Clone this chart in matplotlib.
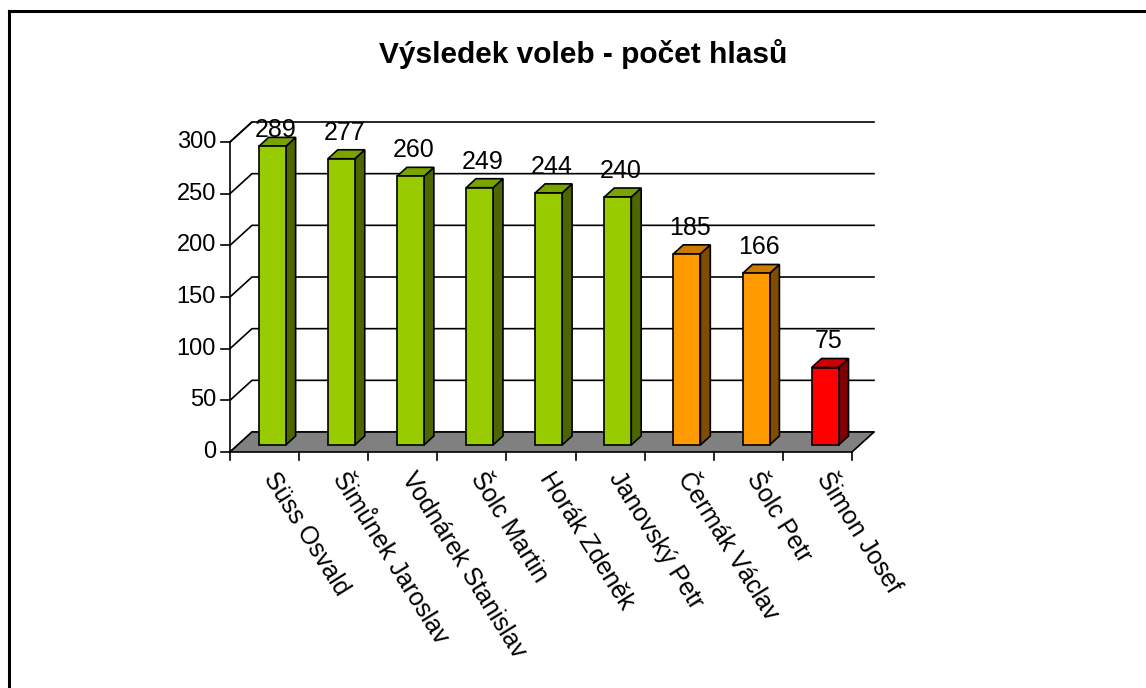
import matplotlib
matplotlib.use("Agg")
import matplotlib.pyplot as plt
from matplotlib.patches import Polygon
from matplotlib.lines import Line2D

# ---- data ----
title = "Výsledek voleb - počet hlasů"
candidates = ["Süss Osvald", "Šimůnek Jaroslav", "Vodnárek Stanislav", "Šolc Martin",
              "Horák Zdeněk", "Janovský Petr", "Čermák Václav", "Šolc Petr", "Šimon Josef"]
votes = [289, 277, 260, 249, 244, 240, 185, 166, 75]
groups = ["g", "g", "g", "g", "g", "g", "o", "o", "r"]
y_ticks = [0, 50, 100, 150, 200, 250, 300]

# face colours: front, side, top
palette = {
    "g": ("#99CC00", "#4D6600", "#7AA300"),
    "o": ("#FF9900", "#804D00", "#CC7A00"),
    "r": ("#FF0000", "#800000", "#CC0000"),
}

plt.rcParams['font.family'] = ['Liberation Sans', 'DejaVu Sans']

W, H = 1146, 688
fig = plt.figure(figsize=(W / 100, H / 100), dpi=100)
ax = fig.add_axes([0, 0, 1, 1])
ax.set_axis_off()

# map data to pixels: x=0 -> 230px, x=9 -> 852px ; y=0 -> 452px from top, y=300 -> 142px
n = len(candidates)
x0_px, x1_px = 230, 852
pxx = (x1_px - x0_px) / n
y0_px, y300_px = 452, 142
pxy = (y0_px - y300_px) / 300.0
ax.set_xlim(-x0_px / pxx, (W - x0_px) / pxx)
ax.set_ylim(-(H - y0_px) / pxy, y0_px / pxy)

DX = 22 / pxx      # depth offset in category units
DY = 20 / pxy      # depth offset in value units
ymax = 300

# frame (left and top lines only)
ax.add_line(Line2D([-x0_px / pxx + 8.5 / pxx] * 2,
                   [-(H - y0_px) / pxy, (y0_px - 11) / pxy], color="black", lw=2.2))
ax.add_line(Line2D([-x0_px / pxx + 8.5 / pxx, (W - x0_px) / pxx],
                   [(y0_px - 11) / pxy] * 2, color="black", lw=2.2))

# floor
ax.add_patch(Polygon([(0, 0), (n, 0), (n + DX, DY), (DX, DY)], closed=True,
                     facecolor="#808080", edgecolor="black", lw=1.2, zorder=2))

# walls gridlines
for t in y_ticks:
    ax.add_line(Line2D([0, DX, n + DX], [t, t + DY, t + DY], color="black", lw=1.2, zorder=1))
    ax.add_line(Line2D([-9 / pxx, 0], [t, t], color="black", lw=1.2, zorder=3))
    ax.text(-14 / pxx, t, str(t), ha="right", va="center", fontsize=17, zorder=5)
ax.add_line(Line2D([0, 0], [0, ymax], color="black", lw=1.2, zorder=3))
ax.add_line(Line2D([0, DX], [ymax, ymax + DY], color="black", lw=1.2, zorder=3))

# category ticks
for i in range(n + 1):
    ax.add_line(Line2D([i, i], [0, -8 / pxy], color="black", lw=1.2, zorder=3))

# bars
bw = 0.39
f1, f2 = 0.35, 0.80
for i, (v, g) in enumerate(zip(votes, groups)):
    front, side, top = palette[g]
    xl = i + 0.5 - bw / 2 + f1 * DX
    xr = xl + bw
    yb = f1 * DY
    yt = v + f1 * DY
    ddx = (f2 - f1) * DX
    ddy = (f2 - f1) * DY
    ax.add_patch(Polygon([(xr, yb), (xr + ddx, yb + ddy), (xr + ddx, yt + ddy), (xr, yt)],
                         facecolor=side, edgecolor="black", lw=1.2, zorder=4))
    ax.add_patch(Polygon([(xl, yt), (xr, yt), (xr + ddx, yt + ddy), (xl + ddx, yt + ddy)],
                         facecolor=top, edgecolor="black", lw=1.2, zorder=4))
    ax.add_patch(Polygon([(xl, yb), (xr, yb), (xr, yt), (xl, yt)],
                         facecolor=front, edgecolor="black", lw=1.2, zorder=4))
    ly = min(yt + ddy + 10 / pxy, 305)
    ax.text((xl + xr) / 2 + 3 / pxx, ly, str(v), ha="center", va="baseline",
            fontsize=18, zorder=5)
    # category label
    ax.text(i + 0.5 + 4 / pxx, -22 / pxy, candidates[i], rotation=-58, rotation_mode="anchor",
            ha="left", va="center", fontsize=18, zorder=5)

# title
ax.text((583 - x0_px) / pxx, (y0_px - 63) / pxy, title, ha="center", va="baseline",
        fontsize=21.5, fontweight="bold")

fig.savefig("out.png", dpi=100)
